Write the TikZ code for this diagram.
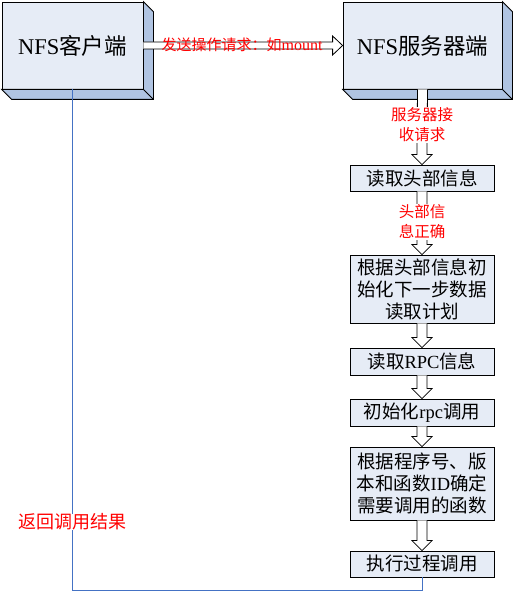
\documentclass[tikz,border=0pt]{standalone}
\usepackage{fontspec}
\setmainfont{Liberation Serif}
\newfontfamily\cjk{Noto Sans CJK SC}
\usepackage{tikz}
\usetikzlibrary{calc}
\usepackage{xcolor}

\definecolor{boxface}{RGB}{230,236,246}
\definecolor{boxside}{RGB}{176,196,226}
\definecolor{retblue}{RGB}{68,114,196}

\newcommand{\zh}[1]{{\cjk #1}}

% extruded side of a big box
\newcommand{\slabside}[1]{%
  \draw[fill=boxside, line width=0.8pt] (#1.north east) -- ++(10,-10)
    -- ($(#1.south east)+(10,-10)$) -- ($(#1.south west)+(10,-10)$)
    -- (#1.south west) -- (#1.south east) -- cycle;
  \draw[line width=0.8pt] (#1.south east) -- ++(10,-10);}

% hollow block arrows
\newcommand{\blockdown}[2]{%
  \draw[blockarrow] ($(#1.south)+(-5,0)$) -- ($(#2.north)+(-5,10)$) -- ++(-5,0)
    -- (#2.north) -- ++(10,10) -- ++(-5,0) -- ($(#1.south)+(5,0)$);}
\newcommand{\blockright}[2]{%
  \draw[blockarrow] ($(#1.east)+(0,3.5)$) -- ($(#2.west)+(-10,3.5)$) -- ++(0,6)
    -- (#2.west) -- ++(-10,-9.5) -- ++(0,6) -- ($(#1.east)+(0,-3.5)$);}

\begin{document}
\begin{tikzpicture}[x=1pt, y=1pt,
    bigbox/.style={draw, fill=boxface, line width=0.8pt, inner sep=0pt,
      minimum height=87pt, font=\fontsize{22.5}{26}\selectfont},
    stepbox/.style={draw, fill=boxface, line width=0.8pt, inner sep=0pt,
      minimum width=144pt, align=center, font=\fontsize{18.5}{22}\selectfont},
    blockarrow/.style={draw=black, fill=white, line width=0.8pt},
    redlabel/.style={text=red, align=center, inner sep=1pt,
      font=\cjk\fontsize{15.5}{20}\selectfont},
    retline/.style={draw=retblue, line width=0.9pt}]

  \useasboundingbox (0,0) rectangle (516,594);

  % Client and server
  \node[bigbox, minimum width=141pt] (client) at (72.5,548.5) {NFS\zh{客户端}};
  \slabside{client}
  \node[bigbox, minimum width=159pt] (server) at (422.5,548.5) {NFS\zh{服务器端}};
  \slabside{server}

  % Request
  \blockright{client}{server}
  \node[redlabel, font=\cjk\fontsize{15}{18}\selectfont] (req) at (242,549.5)
    {发送操作请求：如{\rmfamily\fontsize{16}{18}\selectfont mount}};

  % Server steps
  \node[stepbox, minimum height=26pt] (head) at (422,416) {\zh{读取头部信息}};
  \node[stepbox, minimum height=68pt] (plan) at (422,305)
    {\zh{根据头部信息初}\\\zh{始化下一步数据}\\\zh{读取计划}};
  \node[stepbox, minimum height=27pt] (rpcinfo) at (422,232.5) {\zh{读取}RPC\zh{信息}};
  \node[stepbox, minimum height=27pt] (rpcinit) at (422,181.5) {\zh{初始化}rpc\zh{调用}};
  \node[stepbox, minimum height=73pt] (func) at (422,110.5)
    {\zh{根据程序号、版}\\\zh{本和函数}ID\zh{确定}\\\zh{需要调用的函数}};
  \node[stepbox, minimum height=26pt] (exec) at (422,30) {\zh{执行过程调用}};

  \blockdown{server}{head}
  \blockdown{head}{plan}
  \blockdown{plan}{rpcinfo}
  \blockdown{rpcinfo}{rpcinit}
  \blockdown{rpcinit}{func}
  \blockdown{func}{exec}

  \node[redlabel, fill=white] (recv) at (422,469) {服务器接\\收请求};
  \node[redlabel, fill=white] (ok) at (422,372) {头部信\\息正确};

  % Return path
  \coordinate (back) at (0,3.5);
  \draw[retline] (client.south) |- (back -| exec.south) -- (exec.south);
  \node[redlabel, fill=white, inner sep=0pt, font=\cjk\fontsize{18}{20}\selectfont] (ret) at (72.5,72) {返回调用结果};

\end{tikzpicture}
\end{document}
